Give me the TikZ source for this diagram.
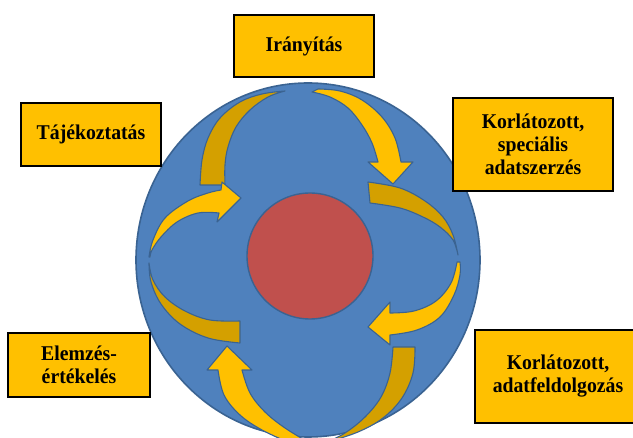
\documentclass[tikz,border=0pt]{standalone}
\usepackage{fontspec}
\setmainfont{Liberation Serif}[FakeStretch=0.94]
\definecolor{globeblue}{HTML}{4F81BD}
\definecolor{globeline}{HTML}{3A6392}
\definecolor{corered}{HTML}{C0504D}
\definecolor{goldlight}{HTML}{FFC000}
\definecolor{golddark}{HTML}{D4A000}
\definecolor{boxgold}{HTML}{FFC000}
\begin{document}
\begin{tikzpicture}[x=1pt,y=-1pt,
  labelbox/.style={draw=black, line width=2.8pt, fill=boxgold, inner sep=0pt,
    align=center, font=\fontsize{21}{23}\selectfont\bfseries},
  ribbon/.style={draw=globeline, line width=1.1pt, line join=round},
  backside/.style={ribbon, fill=golddark},
  frontside/.style={ribbon, fill=goldlight},
  edge/.style={smooth, tension=0.6}]
\useasboundingbox (0,0) rectangle (633,438);
\clip (0,0) rectangle (633,438);

% globe and core
\fill[globeblue, draw=globeline, line width=1.6pt] (308,260) ellipse [x radius=172, y radius=177];
\fill[corered, draw=globeline, line width=1.4pt] (310,256) circle [radius=63];

% back faces of the twisted ribbons
\path[backside] plot[edge] coordinates {(200,185) (202,160) (208,138) (220,118) (240,102) (262,94) (285,91)}
  -- plot[edge] coordinates {(285,91) (268,97) (250,110) (236,127) (228,147) (225,165) (225,185)} -- cycle;
\path[backside] plot[edge] coordinates {(368,182) (400,188) (425,201) (443,217) (453,235) (458,255)}
  -- plot[edge] coordinates {(458,255) (453,240) (440,227) (423,217) (400,208) (370,203)} -- cycle;
\path[backside] plot[edge] coordinates {(415,347) (413,373) (402,398) (383,418) (358,432) (325,443)}
  -- plot[edge] coordinates {(325,443) (345,433) (365,417) (381,397) (390,373) (393,347)} -- cycle;
\path[backside] plot[edge] coordinates {(240,321) (210,320) (185,311) (165,297) (153,280) (149,263)}
  -- plot[edge] coordinates {(149,263) (151,282) (161,304) (180,324) (208,338) (240,343)} -- cycle;

% front faces with arrow heads
\path[frontside] plot[edge] coordinates {(312,92) (330,97) (348,108) (362,125) (372,143) (378,162)}
  -- (368,162) -- (393,184) -- (413,162) -- (401,162)
  -- plot[edge] coordinates {(401,162) (395,138) (382,117) (362,100) (340,91) (318,89)} -- cycle;
\path[frontside] plot[edge] coordinates {(457,262) (451,283) (436,301) (414,311) (390,313)}
  -- (390,302) -- (368,327) -- (390,345) -- (390,335)
  -- plot[edge] coordinates {(390,335) (417,330) (440,317) (454,295) (460,275) (460,262)} -- cycle;
\path[frontside] plot[edge] coordinates {(242,370) (250,393) (265,412) (285,428) (308,442)}
  -- (290,443)
  -- plot[edge] coordinates {(290,443) (262,430) (240,415) (224,395) (218,370)}
  -- (207,370) -- (227,346) -- (252,370) -- cycle;
\path[frontside] plot[edge] coordinates {(149,257) (153,240) (165,218) (188,201) (208,193) (221,190)}
  -- (222,182) -- (241,198) -- (217,222) -- (219,213)
  -- plot[edge] coordinates {(219,213) (198,213) (177,222) (161,237) (152,250) (150,257)} -- cycle;

% labels
\node[labelbox, minimum width=140, minimum height=62] (iranyitas) at (304,46) {Irányítás};
\node[labelbox, minimum width=140, minimum height=63] (tajekoztatas) at (91,134.5) {Tájékoztatás};
\node[labelbox, minimum width=160, minimum height=93] (adatszerzes) at (533,144.5) {Korlátozott,\\speciális\\adatszerzés};
\node[labelbox, minimum width=142, minimum height=64] (elemzes) at (79,365) {Elemzés-\\értékelés};
\node[labelbox, minimum width=166, minimum height=93] (adatfeldolgozas) at (558,376.5) {Korlátozott,\\adatfeldolgozás};
\end{tikzpicture}
\end{document}
